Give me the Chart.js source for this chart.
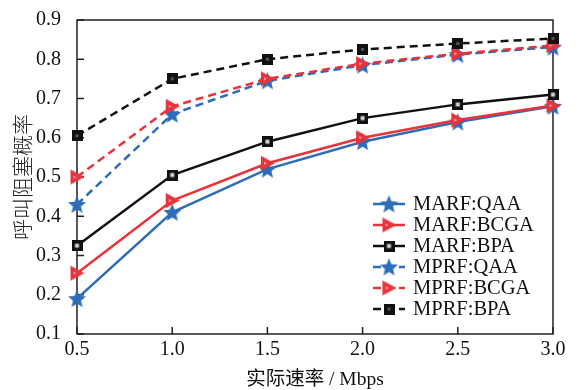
<!DOCTYPE html>
<html>
<head>
<meta charset="utf-8">
<script src="https://cdn.jsdelivr.net/npm/chart.js@4/dist/chart.umd.min.js"></script>
<style>
  html, body { margin: 0; padding: 0; background: #fff; }
  #wrap { width: 580px; height: 390px; position: relative; }
</style>
</head>
<body>
<div id="wrap"><canvas id="chart"></canvas></div>
<script>
// x values (Mbps) and blocking probability per series
const rates = [0.5, 1.0, 1.5, 2.0, 2.5, 3.0];
const marfQAA  = [0.19, 0.41, 0.52, 0.59, 0.64, 0.68];
const marfBCGA = [0.255, 0.44, 0.535, 0.60, 0.645, 0.682];
const marfBPA  = [0.325, 0.505, 0.59, 0.65, 0.685, 0.71];
const mprfQAA  = [0.43, 0.66, 0.745, 0.785, 0.812, 0.831];
const mprfBCGA = [0.50, 0.68, 0.75, 0.789, 0.814, 0.835];
const mprfBPA  = [0.605, 0.75, 0.80, 0.825, 0.84, 0.853];
const seriesNames = ['MARF:QAA', 'MARF:BCGA', 'MARF:BPA', 'MPRF:QAA', 'MPRF:BCGA', 'MPRF:BPA'];

const BLUE = '#2e6cb6';
const RED = '#e8333b';
const BLACK = '#111111';
const SERIF = "'Liberation Serif', 'Noto Sans CJK SC', serif";

// marker canvases
function starMarker(color) {
  const c = document.createElement('canvas');
  c.width = 19; c.height = 19;
  const ctx = c.getContext('2d');
  ctx.fillStyle = color;
  ctx.beginPath();
  for (let i = 0; i < 10; i++) {
    const r = i % 2 === 0 ? 9.5 : 4.2;
    const a = -Math.PI / 2 + i * Math.PI / 5;
    const px = 9.5 + r * Math.cos(a), py = 10.2 + r * Math.sin(a);
    i === 0 ? ctx.moveTo(px, py) : ctx.lineTo(px, py);
  }
  ctx.closePath();
  ctx.fill();
  return c;
}

function triMarker(color) {
  const c = document.createElement('canvas');
  c.width = 17; c.height = 17;
  const ctx = c.getContext('2d');
  ctx.fillStyle = color;
  ctx.beginPath();
  ctx.moveTo(2, 1); ctx.lineTo(16, 8.5); ctx.lineTo(2, 16);
  ctx.closePath();
  ctx.fill();
  ctx.fillStyle = '#f3a5a9';
  ctx.beginPath();
  ctx.moveTo(5, 7); ctx.lineTo(8, 8.5); ctx.lineTo(5, 10);
  ctx.closePath();
  ctx.fill();
  return c;
}

function squareMarker(hollow) {
  const c = document.createElement('canvas');
  c.width = 11; c.height = 11;
  const ctx = c.getContext('2d');
  ctx.fillStyle = BLACK;
  ctx.fillRect(0, 0, 11, 11);
  ctx.fillStyle = hollow ? '#d8d8d8' : '#555';
  if (hollow) ctx.fillRect(3.5, 3.5, 4, 4);
  else ctx.fillRect(4, 4, 3, 3);
  return c;
}

const colors = [BLUE, RED, BLACK, BLUE, RED, BLACK];
const markers = [starMarker(BLUE), triMarker(RED), squareMarker(true),
                 starMarker(BLUE), triMarker(RED), squareMarker(false)];
const values = [marfQAA, marfBCGA, marfBPA, mprfQAA, mprfBCGA, mprfBPA];

const datasets = values.map((vals, i) => ({
  label: seriesNames[i],
  data: vals.map((v, j) => ({ x: rates[j], y: v })),
  borderColor: colors[i],
  backgroundColor: colors[i],
  borderWidth: 2.5,
  borderDash: i >= 3 ? [8, 5] : [],
  pointStyle: markers[i],
  tension: 0,
  clip: false,
  order: 6 - i
}));

// inward ticks, frame and in-plot legend
const framePlugin = {
  id: 'frame',
  beforeDatasetsDraw(chart) {
    const { ctx, chartArea: a, scales } = chart;
    ctx.save();
    ctx.strokeStyle = '#222';
    ctx.lineWidth = 1.5;
    ctx.strokeRect(a.left, a.top, a.right - a.left, a.bottom - a.top);
    ctx.beginPath();
    scales.x.ticks.forEach(t => {
      const px = scales.x.getPixelForValue(t.value);
      ctx.moveTo(px, a.bottom); ctx.lineTo(px, a.bottom - 7);
    });
    scales.y.ticks.forEach(t => {
      const py = scales.y.getPixelForValue(t.value);
      ctx.moveTo(a.left, py); ctx.lineTo(a.left + 7, py);
    });
    ctx.stroke();
    ctx.restore();
  },
  afterDraw(chart) {
    const { ctx, chartArea: a } = chart;
    ctx.save();
    // legend
    const lx = a.right - 180;
    let ly = a.bottom - 130;
    ctx.font = '20.5px ' + SERIF;
    ctx.textBaseline = 'middle';
    chart.data.datasets.forEach(ds => {
      ctx.strokeStyle = ds.borderColor;
      ctx.lineWidth = 2.5;
      ctx.setLineDash(ds.borderDash.length ? [8, 5] : []);
      ctx.beginPath();
      ctx.moveTo(lx, ly); ctx.lineTo(lx + 32, ly);
      ctx.stroke();
      ctx.setLineDash([]);
      const m = ds.pointStyle;
      ctx.drawImage(m, lx + 16 - m.width / 2, ly - m.height / 2);
      ctx.fillStyle = '#111';
      ctx.fillText(ds.label, lx + 40, ly + 1);
      ly += 21;
    });
    ctx.restore();
  }
};

new Chart(document.getElementById('chart'), {
  type: 'line',
  data: { datasets },
  options: {
    responsive: true,
    maintainAspectRatio: false,
    animation: false,
    layout: { padding: { top: 14, right: 27, left: 0, bottom: 0 } },
    plugins: { legend: { display: false }, tooltip: { enabled: false } },
    scales: {
      x: {
        type: 'linear',
        min: 0.5, max: 3.0,
        grid: { display: false },
        border: { display: false },
        ticks: {
          stepSize: 0.5,
          padding: -4,
          color: '#111',
          font: { family: SERIF, size: 20 },
          callback: v => v.toFixed(1)
        },
        title: {
          display: true,
          text: '实际速率 / Mbps',
          color: '#111',
          font: { family: SERIF, size: 19.5 },
          padding: { top: 0, bottom: -2 }
        },
        afterFit: s => { s.height = 56; }
      },
      y: {
        min: 0.1, max: 0.9,
        grid: { display: false },
        border: { display: false },
        ticks: {
          stepSize: 0.1,
          padding: 8,
          color: '#111',
          font: { family: SERIF, size: 20 },
          callback: v => v.toFixed(1)
        },
        title: {
          display: true,
          text: '呼叫阻塞概率',
          color: '#222',
          font: { family: "'Noto Sans CJK SC', sans-serif", size: 21, weight: '300' },
          padding: { top: 9, bottom: 0 }
        },
        afterFit: s => { s.width = 77; }
      }
    }
  },
  plugins: [framePlugin]
});
</script>
</body>
</html>
